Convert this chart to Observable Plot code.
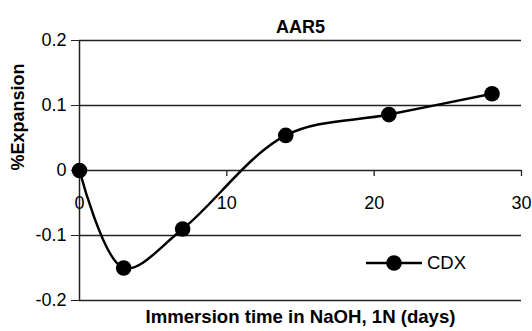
<!DOCTYPE html>
<html>
<head>
<meta charset="utf-8">
<script src="https://cdn.jsdelivr.net/npm/d3@7"></script>
<script src="https://cdn.jsdelivr.net/npm/@observablehq/plot@0.6"></script>
<style>
  html, body { margin: 0; padding: 0; background: #fff; }
  #wrap { position: relative; width: 532px; height: 331px; font-family: "Liberation Sans", Arial, sans-serif; }
  #legend { position: absolute; left: 360px; top: 250px; }
</style>
</head>
<body>
<div id="wrap"></div>
<script>
const title = "AAR5";
const seriesName = "CDX";
const xLabel = "Immersion time in NaOH, 1N (days)";
const yLabel = "%Expansion";
const days = [0, 3, 7, 14, 21, 28];
const cdx = [0, -0.150, -0.090, 0.054, 0.086, 0.118];
const yTicks = [-0.2, -0.1, 0, 0.1, 0.2];
const xTicks = [0, 10, 20, 30];

const data = days.map((d, i) => ({day: d, value: cdx[i]}));
const fmtY = d => d === 0 ? "0" : d.toFixed(1);

const chart = Plot.plot({
  width: 532,
  height: 331,
  marginTop: 40,
  marginBottom: 31,
  marginLeft: 79,
  marginRight: 11,
  style: {fontFamily: '"Liberation Sans", Arial, sans-serif', fontSize: "18px", color: "#000", background: "#fff"},
  x: {domain: [0, 30], axis: null},
  y: {domain: [-0.2, 0.2], axis: null},
  marks: [
    Plot.ruleY(yTicks, {stroke: "#222", strokeWidth: 1.3}),
    Plot.ruleX([0], {stroke: "#222", strokeWidth: 1.5}),
    Plot.axisY({ticks: yTicks, tickSize: 8, tickPadding: 5, tickFormat: fmtY, label: null, fontSize: 18, stroke: "#222"}),
    Plot.ruleX(xTicks, {x: d => d, y1: 0, y2: 0, insetBottom: -6, stroke: "#222", strokeWidth: 1.3}),
    Plot.text(xTicks, {x: d => d, y: () => 0, dy: 33, text: d => String(d), fontSize: 18}),
    Plot.line(data, {x: "day", y: "value", curve: "catmull-rom", stroke: "#000", strokeWidth: 2.5}),
    Plot.dot(data, {x: "day", y: "value", r: 7.8, fill: "#000", stroke: "none"}),
    Plot.text([title], {frameAnchor: "top", dy: -20, fontWeight: "bold", fontSize: 18}),
    Plot.text([xLabel], {frameAnchor: "bottom", dy: 22, fontWeight: "bold", fontSize: 18.6}),
    Plot.text([yLabel], {frameAnchor: "left", dx: -61, rotate: -90, fontWeight: "bold", fontSize: 18})
  ]
});

const wrap = document.getElementById("wrap");
wrap.appendChild(chart);

const legend = document.createElement("div");
legend.id = "legend";
legend.innerHTML = `<svg width="130" height="26" xmlns="http://www.w3.org/2000/svg">
  <line x1="6" y1="13" x2="62" y2="13" stroke="#000" stroke-width="2.5"/>
  <circle cx="34" cy="13" r="7.8" fill="#000"/>
  <text x="67" y="13" dy="0.35em" font-size="18.5" font-family="Liberation Sans, Arial, sans-serif">${seriesName}</text>
</svg>`;
wrap.appendChild(legend);
</script>
</body>
</html>
